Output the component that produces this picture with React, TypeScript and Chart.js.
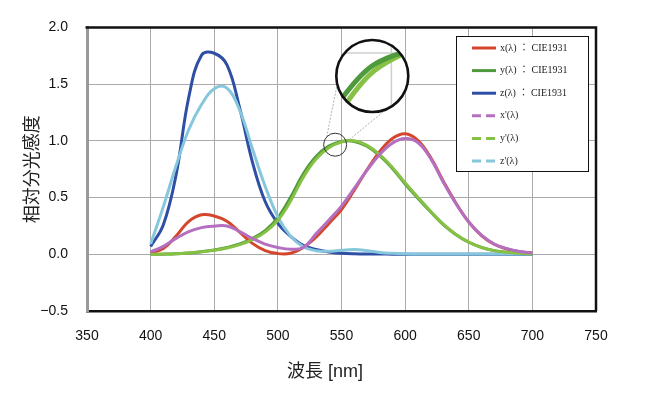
import React, { useEffect, useRef } from 'react';
import { Chart, registerables } from 'chart.js';

Chart.register(...registerables);

// ---- data ----
const wavelengths = [400, 410, 420, 430, 440, 450, 460, 470, 480, 490, 500, 510, 520, 530, 540, 550, 560, 570, 580, 590, 600, 610, 620, 630, 640, 650, 660, 670, 680, 690, 700];

const xBar = [0.014, 0.05, 0.16, 0.29, 0.348, 0.338, 0.291, 0.195, 0.096, 0.032, 0.006, 0.009, 0.06, 0.15, 0.27, 0.395, 0.565, 0.745, 0.905, 1.02, 1.062, 1.005, 0.855, 0.645, 0.45, 0.285, 0.165, 0.088, 0.047, 0.023, 0.011];
const yBar = [0.0004, 0.0012, 0.004, 0.012, 0.023, 0.038, 0.06, 0.091, 0.139, 0.208, 0.323, 0.503, 0.71, 0.862, 0.954, 0.995, 0.995, 0.952, 0.87, 0.757, 0.62, 0.495, 0.375, 0.262, 0.173, 0.106, 0.061, 0.032, 0.017, 0.008, 0.004];
const zBar = [0.068, 0.26, 0.7, 1.386, 1.755, 1.772, 1.669, 1.288, 0.813, 0.465, 0.272, 0.158, 0.078, 0.042, 0.02, 0.009, 0.004, 0.002, 0.002, 0.001, 0.001, 0, 0, 0, 0, 0, 0, 0, 0, 0, 0];
const xPrime = [0.02, 0.07, 0.14, 0.2, 0.235, 0.248, 0.25, 0.2, 0.14, 0.09, 0.06, 0.045, 0.06, 0.18, 0.3, 0.425, 0.58, 0.74, 0.88, 0.98, 1.02, 0.985, 0.845, 0.635, 0.445, 0.285, 0.168, 0.09, 0.05, 0.025, 0.012];
const yPrime = [0.0, 0.002, 0.005, 0.012, 0.022, 0.035, 0.055, 0.085, 0.13, 0.195, 0.3, 0.47, 0.68, 0.84, 0.94, 0.99, 1.0, 0.96, 0.878, 0.765, 0.63, 0.502, 0.38, 0.265, 0.175, 0.107, 0.06, 0.032, 0.017, 0.008, 0.004];
const zPrime = [0.09, 0.42, 0.78, 1.1, 1.32, 1.46, 1.465, 1.27, 0.93, 0.6, 0.33, 0.16, 0.065, 0.032, 0.026, 0.035, 0.042, 0.032, 0.016, 0.008, 0.004, 0.003, 0.002, 0.002, 0.002, 0.002, 0.002, 0.002, 0.002, 0.002, 0.002];

const seriesLabels = ['x(λ) ： CIE1931', 'y(λ) ： CIE1931', 'z(λ) ： CIE1931', "x'(λ)", "y'(λ)", "z'(λ)"];
const seriesValues = [xBar, yBar, zBar, xPrime, yPrime, zPrime];
const seriesColors = ['#d4472c', '#4e9a3c', '#2f4ea6', '#b46fc0', '#86c045', '#86c7dc'];

const xTickMin = 350;
const xTickMax = 750;
const xTickStep = 50;
const yTickMin = -0.5;
const yTickMax = 2.0;
const yTickStep = 0.5;

const xAxisTitle = '波長 [nm]';
const yAxisTitle = '相対分光感度';

const SANS = "'Liberation Sans', 'Noto Sans CJK JP', sans-serif";
const SERIF = "'Liberation Serif', 'Noto Sans CJK JP', serif";

// ---- plugins ----
const framePlugin = {
  id: 'frame',
  afterDraw(chart: any) {
    const { ctx, chartArea } = chart;
    const { left, right, top, bottom } = chartArea;
    ctx.save();
    ctx.strokeStyle = '#111';
    ctx.lineWidth = 2.5;
    ctx.beginPath();
    ctx.moveTo(left - 1.5, top);
    ctx.lineTo(right, top);
    ctx.lineTo(right, bottom);
    ctx.stroke();
    // x axis title, centred on the canvas
    ctx.fillStyle = '#222';
    ctx.font = `18px ${SANS}`;
    ctx.textAlign = 'center';
    ctx.textBaseline = 'middle';
    ctx.fillText(xAxisTitle, chart.width / 2, bottom + 61);
    ctx.restore();
  },
};

const magnifierPlugin = {
  id: 'magnifier',
  afterDatasetsDraw(chart: any) {
    const { ctx } = chart;
    const xs = chart.scales.x;
    const ys = chart.scales.y;
    const scx = xs.getPixelForValue(545);
    const scy = ys.getPixelForValue(0.966);
    const bcx = xs.getPixelForValue(574.2);
    const bcy = ys.getPixelForValue(1.571);
    const rs = 11.5;
    const rb = 36;
    const kx = 3;
    const ky = 6;
    const map = (px: number, py: number) => [bcx + (px - scx) * kx, bcy + (py - scy) * ky];
    const rad = (d: number) => (d * Math.PI) / 180;

    ctx.save();
    // connecting lines
    ctx.strokeStyle = '#9a9a9a';
    ctx.lineWidth = 0.8;
    ctx.setLineDash([2, 1.5]);
    [[223, 167], [-13, 67]].forEach(([a1, a2]) => {
      ctx.beginPath();
      ctx.moveTo(scx + rs * Math.cos(rad(a1)), scy + rs * Math.sin(rad(a1)));
      ctx.lineTo(bcx + rb * Math.cos(rad(a2)), bcy + rb * Math.sin(rad(a2)));
      ctx.stroke();
    });
    ctx.setLineDash([]);

    // big circle content
    ctx.beginPath();
    ctx.arc(bcx, bcy, rb, 0, Math.PI * 2);
    ctx.fillStyle = '#fff';
    ctx.fill();
    ctx.save();
    ctx.clip();
    // magnified grid lines
    ctx.strokeStyle = '#cfcfcf';
    ctx.lineWidth = 1.5;
    const g550 = map(xs.getPixelForValue(550), ys.getPixelForValue(1.0));
    ctx.beginPath();
    ctx.moveTo(g550[0], bcy - rb);
    ctx.lineTo(g550[0], bcy + rb);
    ctx.moveTo(bcx - rb, g550[1]);
    ctx.lineTo(bcx + rb, g550[1]);
    ctx.stroke();
    // magnified green curves
    [4, 1].forEach((di) => {
      const meta = chart.getDatasetMeta(di);
      const pts = meta.data;
      ctx.beginPath();
      ctx.strokeStyle = seriesColors[di];
      ctx.lineWidth = 5;
      ctx.lineJoin = 'round';
      pts.forEach((p: any, k: number) => {
        const [px, py] = map(p.x, p.y);
        if (k === 0) {
          ctx.moveTo(px, py);
        } else {
          const prev = pts[k - 1];
          if (prev.cp2x !== undefined && p.cp1x !== undefined) {
            const c1 = map(prev.cp2x, prev.cp2y);
            const c2 = map(p.cp1x, p.cp1y);
            ctx.bezierCurveTo(c1[0], c1[1], c2[0], c2[1], px, py);
          } else {
            ctx.lineTo(px, py);
          }
        }
      });
      ctx.stroke();
    });
    ctx.restore();
    ctx.beginPath();
    ctx.arc(bcx, bcy, rb, 0, Math.PI * 2);
    ctx.strokeStyle = '#111';
    ctx.lineWidth = 2.6;
    ctx.stroke();

    // small circle
    ctx.beginPath();
    ctx.arc(scx, scy, rs, 0, Math.PI * 2);
    ctx.strokeStyle = '#333';
    ctx.lineWidth = 1;
    ctx.stroke();
    ctx.restore();
  },
};

const boxLegendPlugin = {
  id: 'boxLegend',
  afterDraw(chart: any) {
    const { ctx, chartArea } = chart;
    const w = 132;
    const h = 135;
    const left = Math.round(chartArea.right - 8 - w);
    const top = Math.round(chartArea.top + 9);
    ctx.save();
    ctx.fillStyle = '#fff';
    ctx.fillRect(left, top, w, h);
    ctx.strokeStyle = '#111';
    ctx.lineWidth = 1;
    ctx.strokeRect(left + 0.5, top + 0.5, w, h);
    chart.data.datasets.forEach((ds: any, i: number) => {
      const y = top + 12 + i * 22.6;
      ctx.beginPath();
      ctx.setLineDash(i >= 3 ? [9, 5] : []);
      ctx.lineWidth = 3;
      ctx.strokeStyle = ds.borderColor;
      ctx.moveTo(left + 16, y);
      ctx.lineTo(left + 40, y);
      ctx.stroke();
      ctx.setLineDash([]);
      ctx.fillStyle = '#222';
      ctx.font = `10px ${SERIF}`;
      ctx.textAlign = 'left';
      ctx.textBaseline = 'middle';
      ctx.fillText(ds.label, left + 44, y);
    });
    ctx.restore();
  },
};

export default function App() {
  const canvasRef = useRef<HTMLCanvasElement | null>(null);

  useEffect(() => {
    if (!canvasRef.current) return;
    const datasets = seriesValues.map((vals, i) => ({
      label: seriesLabels[i],
      data: wavelengths.map((w, k) => ({ x: w, y: vals[k] })),
      borderColor: seriesColors[i],
      backgroundColor: seriesColors[i],
      borderWidth: 3,
      pointRadius: 0,
      tension: 0.4,
      fill: false,
      order: i >= 3 ? 0 : 1,
    }));

    const chart = new Chart(canvasRef.current, {
      type: 'line',
      data: { datasets },
      options: {
        animation: false,
        responsive: true,
        maintainAspectRatio: false,
        layout: { padding: { left: 18, right: 54, top: 24, bottom: 7 } },
        plugins: {
          legend: { display: false },
          tooltip: { enabled: false },
        },
        scales: {
          x: {
            type: 'linear',
            min: xTickMin,
            max: xTickMax,
            ticks: {
              stepSize: xTickStep,
              padding: 17,
              color: '#111',
              font: { family: SANS, size: 14 },
              callback: (v: any) => String(v),
            },
            grid: { color: '#aaaaaa', lineWidth: 1, drawTicks: false },
            border: { display: true, color: '#111', width: 2.5 },
            afterFit: (scale: any) => {
              scale.height = 76;
            },
          },
          y: {
            type: 'linear',
            min: yTickMin,
            max: yTickMax,
            ticks: {
              stepSize: yTickStep,
              padding: 19,
              color: '#111',
              font: { family: SANS, size: 14 },
              callback: (v: any) => Number(v).toFixed(1).replace('-', '−'),
            },
            grid: { color: '#aaaaaa', lineWidth: 1, drawTicks: false },
            border: { display: true, color: '#999999', width: 3 },
            title: {
              display: true,
              text: yAxisTitle,
              color: '#222',
              font: { family: SANS, size: 18 },
              padding: { top: 4, bottom: 4 },
            },
            afterFit: (scale: any) => {
              scale.width = 69;
            },
          },
        },
      },
      plugins: [magnifierPlugin, framePlugin, boxLegendPlugin],
    } as any);

    return () => chart.destroy();
  }, []);

  return (
    <div style={{ position: 'absolute', left: 0, top: 0, width: 650, height: 394, background: '#fff' }}>
      <canvas ref={canvasRef} />
    </div>
  );
}
